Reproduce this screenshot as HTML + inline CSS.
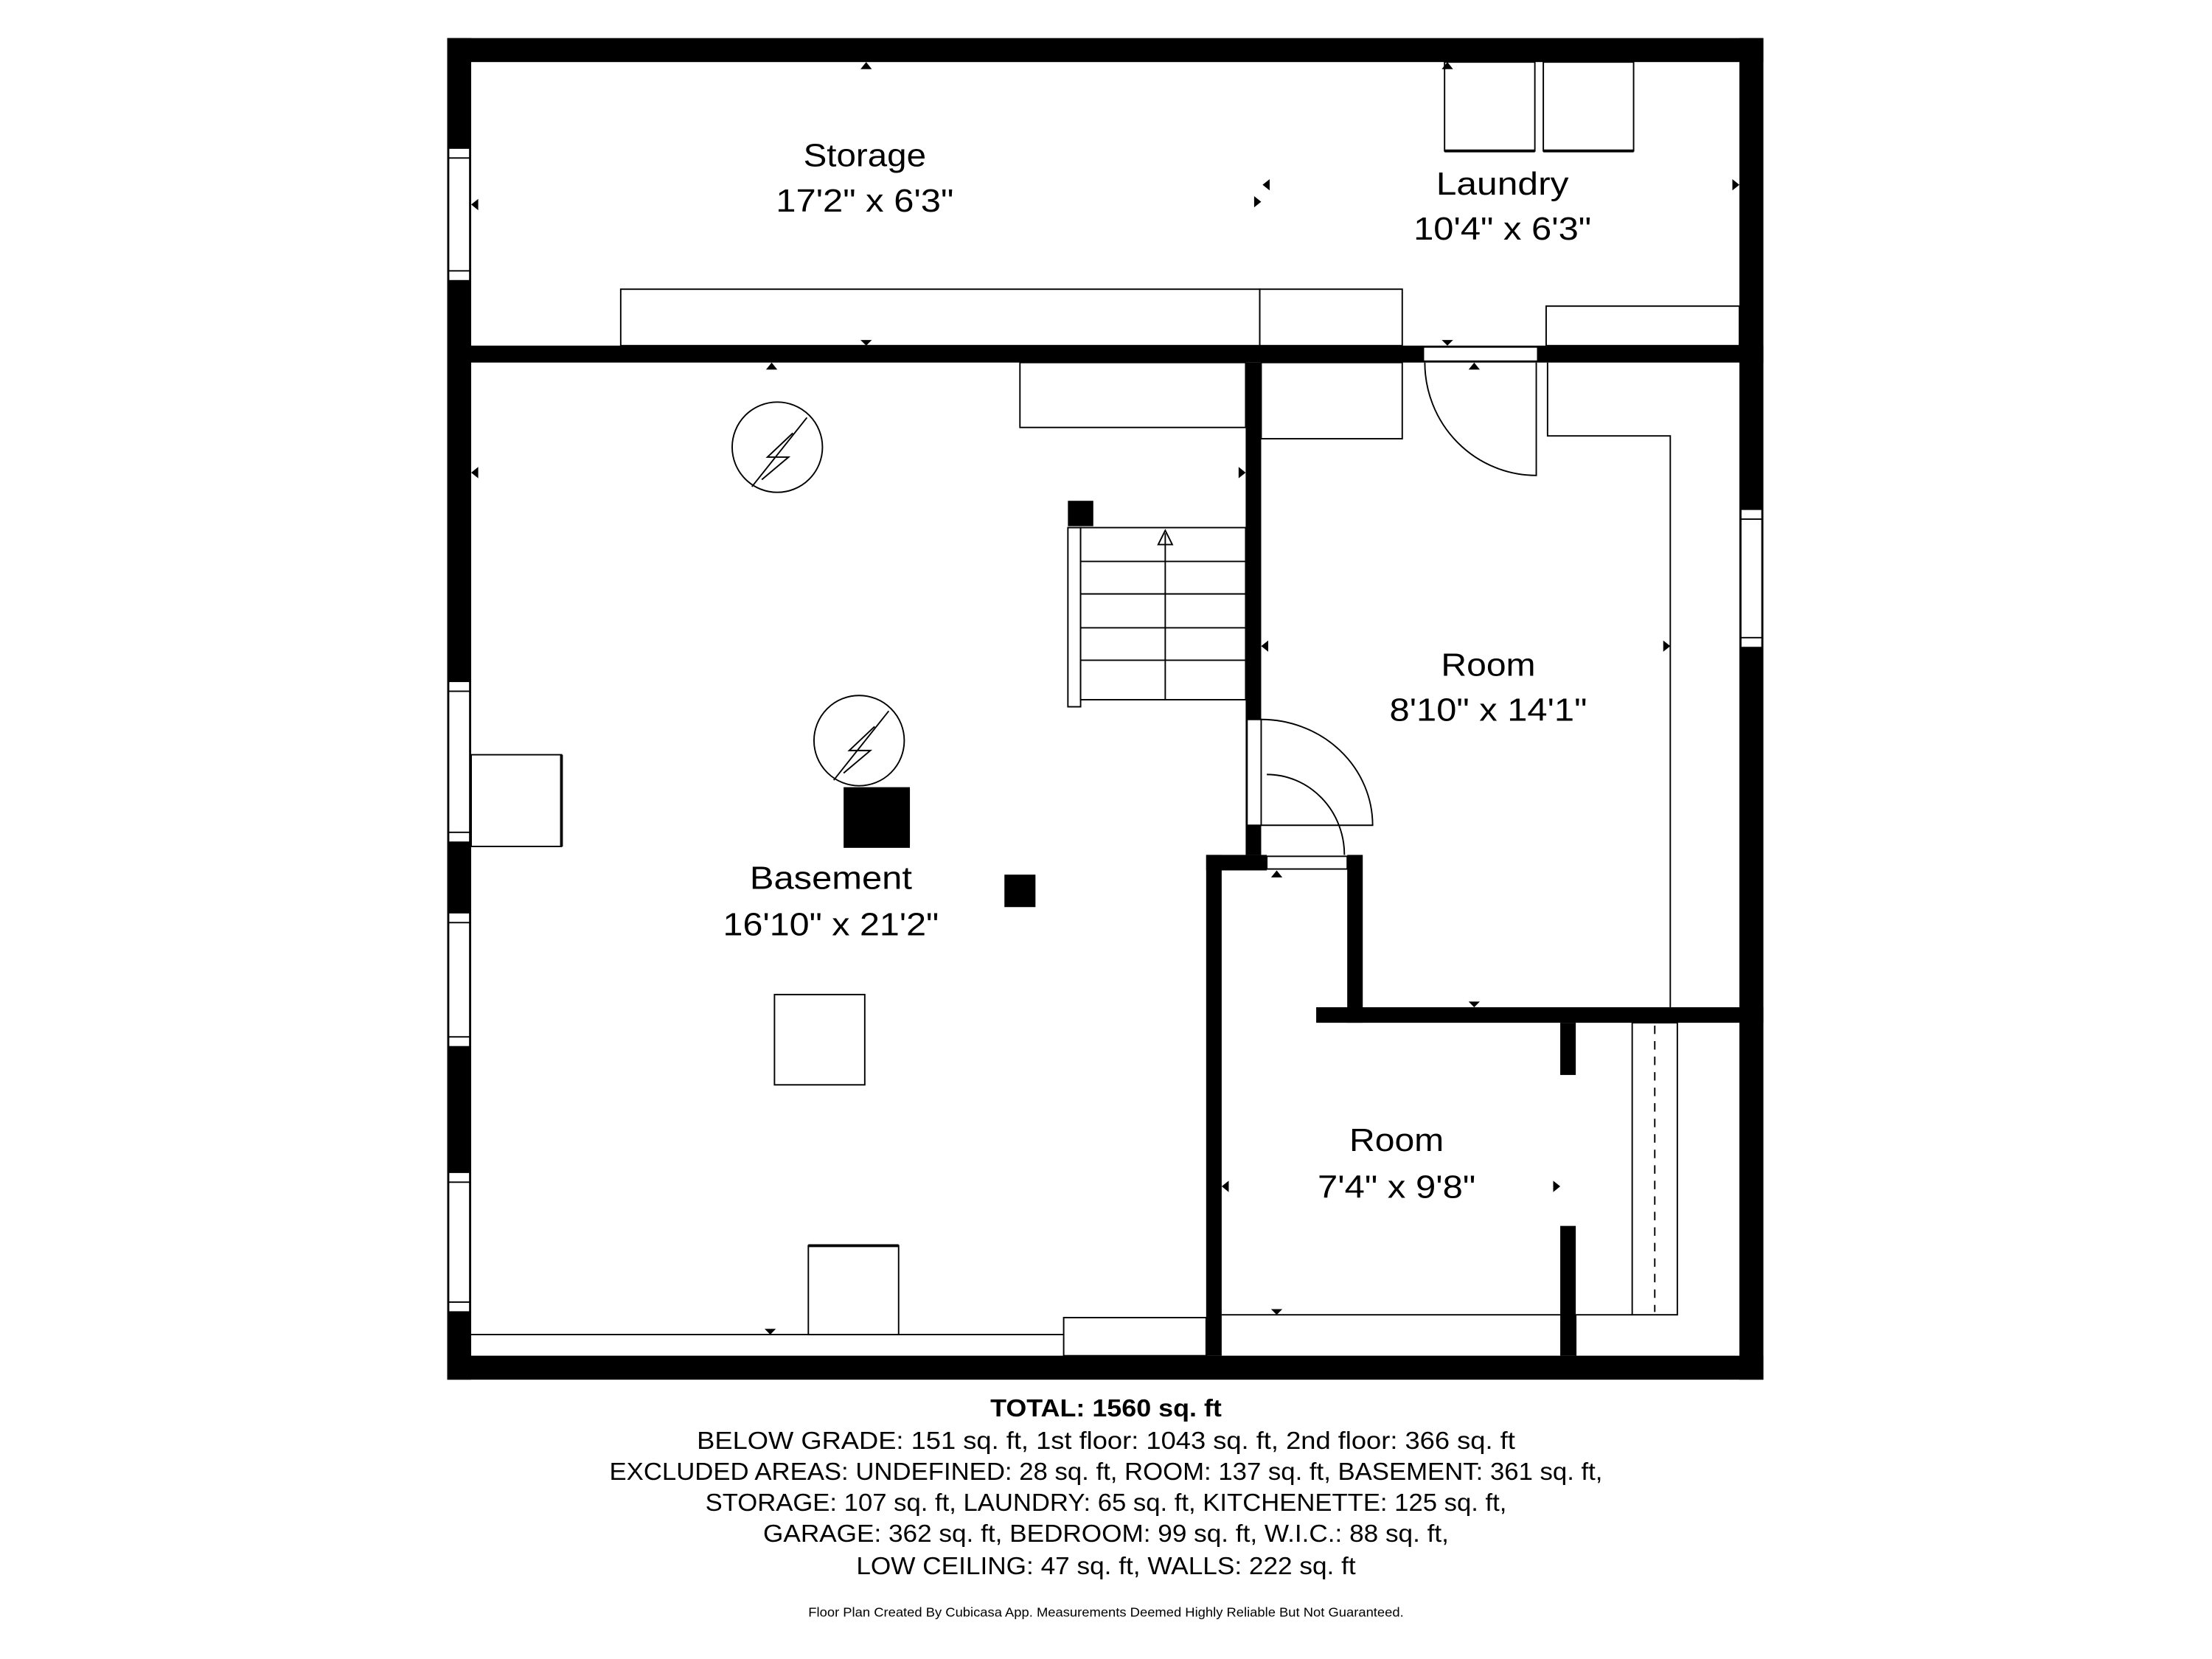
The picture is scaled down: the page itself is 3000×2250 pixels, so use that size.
<!DOCTYPE html>
<html><head><meta charset="utf-8"><style>html,body{margin:0;padding:0;background:#fff}svg{display:block}</style></head><body>
<svg width="3000" height="2250" viewBox="0 0 1568 1176" xmlns="http://www.w3.org/2000/svg" font-family="Liberation Sans, sans-serif">
<rect width="1568" height="1176" fill="#fff"/>
<g fill="#000">
<rect x="317" y="27" width="933" height="17"/>
<rect x="317" y="961" width="933" height="17"/>
<rect x="317" y="27" width="17" height="951"/>
<rect x="1233" y="27" width="17" height="951"/>
<rect x="317" y="245" width="933" height="12"/>
<rect x="883" y="257" width="11" height="349"/>
<rect x="855" y="606" width="11" height="355"/>
<rect x="855" y="606" width="43" height="11"/>
<rect x="955" y="606" width="11" height="119"/>
<rect x="933" y="714" width="317" height="11"/>
<rect x="1106" y="725" width="11" height="37"/>
<rect x="1106" y="869" width="11" height="92"/>
<rect x="598" y="558" width="47" height="43"/>
<rect x="712" y="620" width="22" height="23"/>
<rect x="757" y="355" width="18" height="18"/>
</g>
<g fill="#fff" stroke="#000" stroke-width="1">
<rect x="318" y="105" width="15" height="94"/><rect x="318" y="112" width="15" height="80"/>
<rect x="318" y="483" width="15" height="114"/><rect x="318" y="490" width="15" height="100"/>
<rect x="318" y="647" width="15" height="95"/><rect x="318" y="654" width="15" height="81"/>
<rect x="318" y="831" width="15" height="99"/><rect x="318" y="838" width="15" height="85"/>
<rect x="1234" y="361" width="15" height="98"/><rect x="1234" y="368" width="15" height="84"/>
<rect x="1009" y="246" width="81" height="10"/>
<rect x="898" y="607" width="57" height="9"/>
<rect x="884" y="510" width="10" height="75"/>
<rect x="440" y="205" width="453" height="40"/>
<rect x="893" y="205" width="101" height="40"/>
<rect x="894" y="257" width="100" height="54"/>
<rect x="723" y="257" width="160" height="46"/>
<rect x="1096" y="217" width="137" height="28"/>
<rect x="1024" y="44" width="64" height="63"/>
<rect x="1094" y="44" width="64" height="63"/>
<rect x="334" y="535" width="64" height="65"/>
<rect x="549" y="705" width="64" height="64"/>
<rect x="573" y="883" width="64" height="63"/>
<rect x="754" y="934" width="101" height="27"/>
<rect x="1157" y="725" width="32" height="207"/>
<rect x="757" y="374" width="9" height="127"/>
<rect x="766" y="374" width="117" height="122"/>
<circle cx="551" cy="317" r="32"/>
<circle cx="609" cy="525" r="32"/>
</g>
<g fill="none" stroke="#000" stroke-width="1">
<polyline points="1097,257 1097,309 1184,309 1184,714"/>
<path d="M1010,257 A79,80 0 0 0 1089,337 L1089,257"/>
<path d="M894,510 A79,75 0 0 1 973,585 L894,585"/>
<path d="M898,549 A55,57 0 0 1 953,606"/>
<line x1="766" y1="398" x2="883" y2="398"/><line x1="766" y1="421" x2="883" y2="421"/>
<line x1="766" y1="445" x2="883" y2="445"/><line x1="766" y1="468" x2="883" y2="468"/>
<line x1="826" y1="378" x2="826" y2="496"/>
<path d="M821,386 L826,376 L831,386 Z"/>
<line x1="334" y1="946" x2="754" y2="946"/>
<line x1="866" y1="932" x2="1106" y2="932"/>
<line x1="1117" y1="932" x2="1157" y2="932"/><line x1="1117" y1="932" x2="1117" y2="961"/>
<line x1="1173" y1="727" x2="1173" y2="930" stroke-dasharray="6,5"/>
<line x1="1024" y1="107" x2="1088" y2="107" stroke-width="2"/>
<line x1="1094" y1="107" x2="1158" y2="107" stroke-width="2"/>
<line x1="573" y1="883" x2="637" y2="883" stroke-width="2"/>
<line x1="398" y1="535" x2="398" y2="600" stroke-width="2"/>
<path d="M533,345 L572,296 M562,307 L544,324 L559,324 L540,340"/>
<path d="M591,553 L630,504 M620,515 L602,532 L617,532 L598,548"/>
</g>
<g fill="#000">
<path d="M610,49 L614,44 L618,49Z"/><path d="M610,241 L614,245 L618,241Z"/>
<path d="M543,262 L547,257 L551,262Z"/><path d="M1022,241 L1026,245 L1030,241Z"/>
<path d="M1041,262 L1045,257 L1049,262Z"/><path d="M1022,49 L1026,44 L1030,49Z"/>
<path d="M339,141 L334,145 L339,149Z"/><path d="M889,139 L894,143 L889,147Z"/>
<path d="M900,127 L895,131 L900,135Z"/><path d="M1228,127 L1233,131 L1228,135Z"/>
<path d="M339,331 L334,335 L339,339Z"/><path d="M878,331 L883,335 L878,339Z"/>
<path d="M899,454 L894,458 L899,462Z"/><path d="M1179,454 L1184,458 L1179,462Z"/>
<path d="M901,622 L905,617 L909,622Z"/><path d="M1041,710 L1045,714 L1049,710Z"/>
<path d="M871,837 L866,841 L871,845Z"/><path d="M1101,837 L1106,841 L1101,845Z"/>
<path d="M901,928 L905,932 L909,928Z"/><path d="M542,942 L546,946 L550,942Z"/>
</g>
<g text-anchor="middle" fill="#000" font-size="23" lengthAdjust="spacingAndGlyphs">
<text x="613" y="118" textLength="87" lengthAdjust="spacingAndGlyphs">Storage</text>
<text x="613" y="150" textLength="126" lengthAdjust="spacingAndGlyphs">17'2" x 6'3"</text>
<text x="1065" y="138" textLength="94" lengthAdjust="spacingAndGlyphs">Laundry</text>
<text x="1065" y="170" textLength="126" lengthAdjust="spacingAndGlyphs">10'4" x 6'3"</text>
<text x="1055" y="479" textLength="67" lengthAdjust="spacingAndGlyphs">Room</text>
<text x="1055" y="511" textLength="140" lengthAdjust="spacingAndGlyphs">8'10" x 14'1"</text>
<text x="589" y="630" textLength="115" lengthAdjust="spacingAndGlyphs">Basement</text>
<text x="589" y="663" textLength="153" lengthAdjust="spacingAndGlyphs">16'10" x 21'2"</text>
<text x="990" y="816" textLength="67" lengthAdjust="spacingAndGlyphs">Room</text>
<text x="990" y="849" textLength="112" lengthAdjust="spacingAndGlyphs">7'4" x 9'8"</text>
</g>
<g text-anchor="middle" fill="#000" font-size="17.5">
<text x="784" y="1004" font-weight="bold" textLength="164" lengthAdjust="spacingAndGlyphs">TOTAL: 1560 sq. ft</text>
<text x="784" y="1027" textLength="580" lengthAdjust="spacingAndGlyphs">BELOW GRADE: 151 sq. ft, 1st floor: 1043 sq. ft, 2nd floor: 366 sq. ft</text>
<text x="784" y="1049" textLength="704" lengthAdjust="spacingAndGlyphs">EXCLUDED AREAS: UNDEFINED: 28 sq. ft, ROOM: 137 sq. ft, BASEMENT: 361 sq. ft,</text>
<text x="784" y="1071" textLength="568" lengthAdjust="spacingAndGlyphs">STORAGE: 107 sq. ft, LAUNDRY: 65 sq. ft, KITCHENETTE: 125 sq. ft,</text>
<text x="784" y="1093" textLength="486" lengthAdjust="spacingAndGlyphs">GARAGE: 362 sq. ft, BEDROOM: 99 sq. ft, W.I.C.: 88 sq. ft,</text>
<text x="784" y="1116" textLength="354" lengthAdjust="spacingAndGlyphs">LOW CEILING: 47 sq. ft, WALLS: 222 sq. ft</text>
<text x="784" y="1146" font-size="9" textLength="422" lengthAdjust="spacingAndGlyphs">Floor Plan Created By Cubicasa App. Measurements Deemed Highly Reliable But Not Guaranteed.</text>
</g>
</svg>
</body></html>
